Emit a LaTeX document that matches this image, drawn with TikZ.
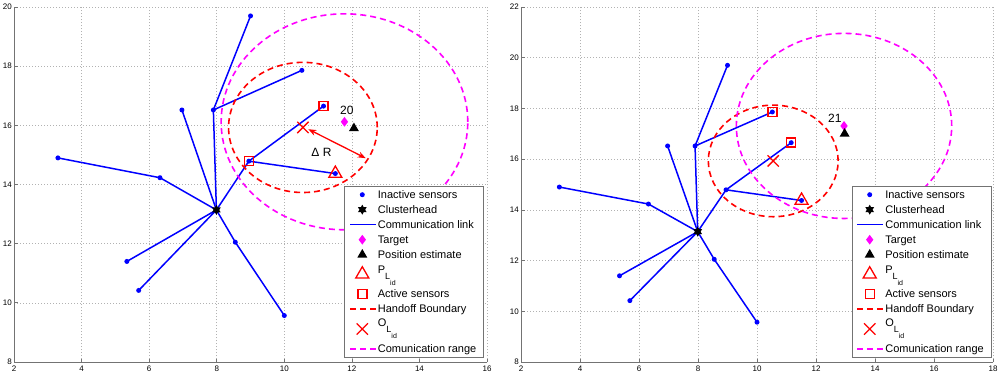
\documentclass[tikz,border=0pt]{standalone}
\usepackage{fontspec}
\setmainfont{Liberation Sans}
\usetikzlibrary{positioning,shapes.geometric,shapes.misc,arrows.meta}
\definecolor{mlblue}{rgb}{0,0,1}
\definecolor{mlred}{rgb}{1,0,0}
\definecolor{mlmagenta}{rgb}{1,0,1}
\newcommand{\subLid}{\raisebox{-6pt}{\fontsize{9}{10}\selectfont L\raisebox{-6pt}{\fontsize{7}{8}\selectfont id}}}

\begin{document}
\begin{tikzpicture}[
    x=1pt, y=1pt,
    panelL/.style={x=33.79pt, y=29.58pt, shift={(-53.58pt,-222.64pt)}},
    panelR/.style={x=29.5pt, y=25.357pt, shift={(462pt,-188.86pt)}},
    axisline/.style={draw=black!55, line width=0.7pt},
    gridline/.style={draw=black!30, line width=0.5pt, dash pattern=on 0.8pt off 2.2pt},
    ticklbl/.style={font=\fontsize{8}{9}\selectfont, inner sep=0pt},
    link/.style={draw=mlblue, line width=1.5pt},
    sensor/.style={circle, fill=mlblue, inner sep=0pt, minimum size=5pt},
    chead/.style={star, star points=6, star point ratio=1.75, fill=black, inner sep=0pt, minimum size=10pt},
    target/.style={diamond, fill=mlmagenta, inner sep=0pt, minimum width=7.5pt, minimum height=10pt},
    estim/.style={regular polygon, regular polygon sides=3, fill=black, inner sep=0pt, minimum size=11.5pt},
    plid/.style={regular polygon, regular polygon sides=3, draw=mlred, line width=1.3pt, inner sep=0pt, minimum size=15pt},
    activ/.style={rectangle, draw=mlred, line width=1.4pt, inner sep=0pt, minimum size=9pt},
    olid/.style={cross out, draw=mlred, line width=1.3pt, inner sep=0pt, minimum size=10pt},
    handoff/.style={draw=mlred, line width=1.6pt, dash pattern=on 6pt off 4pt},
    commrange/.style={draw=mlmagenta, line width=1.6pt, dash pattern=on 6pt off 4pt},
    lbl/.style={font=\fontsize{12}{14}\selectfont, inner sep=0pt},
    legtext/.style={font=\fontsize{11}{13}\selectfont, anchor=base west, inner sep=0pt},
  ]
    \fill[white] (0,0) rectangle (1000,376);
    \useasboundingbox (0,0) rectangle (1000,376);
    % both panels: grid, axes, sensors, links, handoff boundary
    \foreach \p/\xmax/\ymax in {L/16/20, R/18/22} {
      \begin{scope}[panel\p]
        \foreach \gx in {4,6,...,\xmax} \draw[gridline] (\gx,8) -- (\gx,\ymax);
        \foreach \gy in {10,12,...,\ymax} \draw[gridline] (2,\gy) -- (\xmax,\gy);
        \draw[axisline] (2,\ymax) -- (2,8) -- (\xmax,8);
        \foreach \gx in {2,4,...,\xmax} {
          \draw[axisline] (\gx,8) -- ++(0,3.5pt);
          \node[ticklbl, yshift=-6.3pt] (tx\gx\p) at (\gx,8) {\gx};
        }
        \foreach \gy in {8,10,...,\ymax} {
          \draw[axisline] (2,\gy) -- ++(3.5pt,0);
          \node[ticklbl, anchor=east, xshift=-2pt] (ty\gy\p) at (2,\gy) {\gy};
        }
        % sensor positions
        \foreach \n/\px/\py in {
          1/9/19.7, 2/7.9/16.52, 3/10.52/17.86, 4/6.97/16.52, 5/3.3/14.9,
          6/6.32/14.23, 7/5.34/11.4, 8/5.69/10.42, 9/8.55/12.05, 10/10/9.57,
          11/8.95/14.79, 12/11.16/16.65, 13/11.51/14.37}
        { \coordinate (s\n\p) at (\px,\py); }
        \coordinate (ch\p) at (7.99,13.14);
        \foreach \a/\b in {ch/s2, s2/s1, s2/s3, ch/s4, ch/s6, s6/s5, ch/s7,
                           ch/s8, ch/s9, s9/s10, ch/s11, s11/s12, s11/s13}
        { \draw[link] (\a\p) -- (\b\p); }
        \foreach \n in {1,...,13} { \node[sensor] (d\n\p) at (s\n\p) {}; }
        \node[chead] (c\p) at (ch\p) {};
        % handoff boundary round O_Lid
        \coordinate (ol\p) at (10.55,15.93);
        \draw[handoff] (ol\p) circle [radius=2.2];
        \node[olid] (x\p) at (ol\p) {};
        \node[plid] (tri\p) at (s13\p) {};
      \end{scope}
    }
    % left panel: step 20
    \begin{scope}[panelL]
      \node[activ] (qaL) at (s11L) {};
      \node[activ] (qbL) at (s12L) {};
      \coordinate (tgL) at (11.78,16.12);
      \draw[commrange] (tgL) circle [radius=3.65];
      \node[target] (tL) at (tgL) {};
      \node[estim] (eL) at (12.06,15.9) {};
      \node[lbl] (kL) at (11.85,16.49) {20};
      \coordinate (drA) at (10.71,15.87);
      \coordinate (drB) at (12.41,14.89);
      \draw[mlred, line width=1.3pt, {Stealth[length=8pt,width=6pt]}-{Stealth[length=8pt,width=6pt]}] (drA) -- (drB);
      \node[lbl] (dR) at (11.1,15.08) {Δ R};
    \end{scope}
    % right panel: step 21
    \begin{scope}[panelR]
      \node[activ] (qaR) at (s3R) {};
      \node[activ] (qbR) at (s12R) {};
      \coordinate (tgR) at (12.95,17.31);
      \draw[commrange] (tgR) circle [radius=3.65];
      \node[target] (tR) at (tgR) {};
      \node[estim] (eR) at (12.97,17.0) {};
      \node[lbl] (kR) at (12.64,17.61) {21};
    \end{scope}
    % Legends
    \foreach \p/\lx in {L/0, R/507.4} {
      \begin{scope}[xshift=\lx pt]
        \node[draw=black!55, fill=white, line width=0.7pt, anchor=north west, inner sep=0pt,
              minimum width=139pt, minimum height=171.6pt] (box\p) at (344.3,190.3) {};
        \foreach \m/\sty/\my in {a/sensor/181.3, b/chead/166.3, c/target/136.3, d/estim/121.3,
                                 e/plid/101.8, f/activ/82, g/olid/47}
        { \node[\sty] (lm\m\p) at (362.3,\my) {}; }
        \draw[link] (350,151.3) -- (375.7,151.3);
        \draw[handoff] (350,67) -- (375.7,67);
        \draw[commrange] (350,27.3) -- (375.7,27.3);
        \foreach \m/\ty/\lb in {a/177.35/Inactive sensors, b/162.35/Clusterhead,
                                c/147.35/Communication link, d/132.35/Target,
                                e/117.35/Position estimate, f/102.7/P\subLid,
                                g/78.05/Active sensors, h/63.05/Handoff Boundary,
                                i/49.3/O\subLid, j/23.35/Comunication range}
        { \node[legtext] (lt\m\p) at (377.7,\ty) {\lb}; }
      \end{scope}
    }
\end{tikzpicture}
\end{document}
